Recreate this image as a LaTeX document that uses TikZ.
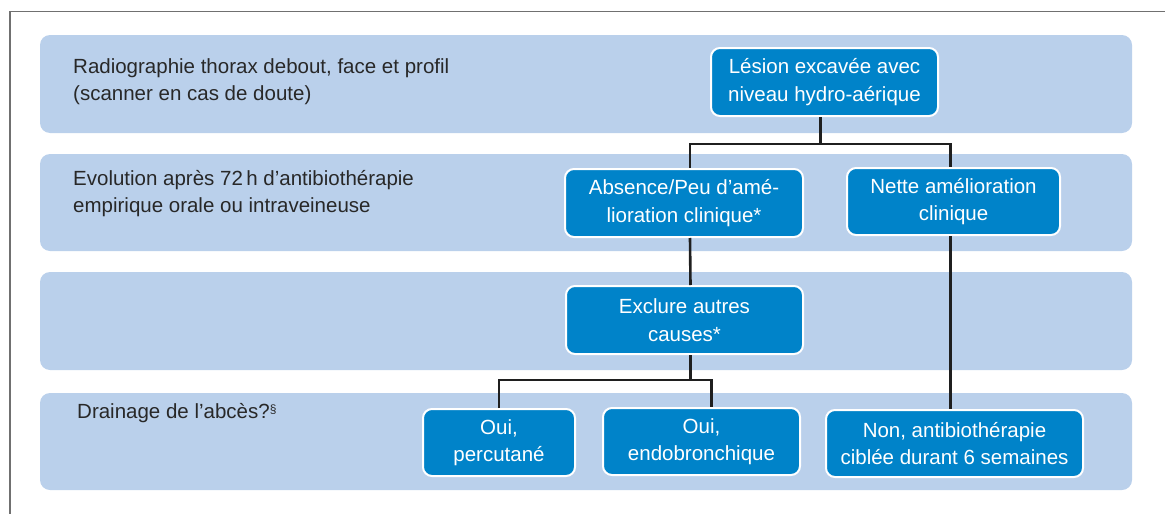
\documentclass[tikz,border=0pt]{standalone}
\usepackage{fontspec}
\setmainfont{Liberation Sans}
\usepackage{tikz}
\definecolor{bandblue}{RGB}{186,208,235}
\definecolor{boxblue}{RGB}{0,131,201}
\definecolor{labelgray}{RGB}{40,40,40}
\definecolor{framegray}{RGB}{112,112,112}
\newcommand{\txtsize}{\fontsize{20.5}{27.5}\selectfont}

\begin{document}
\begin{tikzpicture}[x=1pt,y=-1pt,
        band/.style={fill=bandblue, rounded corners=10pt},
        box/.style={draw=white, line width=2pt, fill=boxblue,
                        rounded corners=9pt, text=white, align=center,
                        inner sep=0pt, font=\txtsize},
        lbl/.style={anchor=west, align=left, inner sep=0pt,
                        text=labelgray, font=\txtsize},
        conn/.style={line width=2.6pt, draw=black!88}]
            \useasboundingbox (0,0) rectangle (1165,514);
            \draw [framegray, line width=1.3pt] (1165,11.5) -| (10,514);
            \fill [band] (40,35) rectangle (1132,133);
            \fill [band] (40,154) rectangle (1132,251);
            \fill [band] (40,272) rectangle (1132,370);
            \fill [band] (40,393) rectangle (1132,490);
            \node [lbl] (rad) at (73,81.5)
                {Radiographie thorax debout, face et profil\\(scanner en cas de doute)};
            \node [lbl] (evo) at (73,193.5)
                {Evolution après 72\,h d’antibiothérapie\\empirique orale ou intraveineuse};
            \node [lbl] (drn) at (77,413) {Drainage de l’abcès?{\fontsize{12}{12}\selectfont\raisebox{5pt}{§}}};
            \node [box, minimum width=227pt, minimum height=68pt] (les) at (824.5,82)
                {Lésion excavée avec\\niveau hydro-aérique};
            \node [box, minimum width=238pt, minimum height=68pt] (abs) at (684,203)
                {Absence/Peu d’amé-\\lioration clinique*};
            \node [box, minimum width=213pt, minimum height=67pt] (net) at (953.5,201.5)
                {Nette amélioration\\clinique};
            \node [box, minimum width=237pt, minimum height=68pt] (exc) at (684.5,320)
                {Exclure autres\\causes*};
            \node [box, minimum width=152pt, minimum height=67pt] (oui1) at (499,442.5)
                {Oui,\\percutané};
            \node [box, minimum width=197pt, minimum height=67pt] (oui2) at (701.5,441.5)
                {Oui,\\endobronchique};
            \node [box, minimum width=257pt, minimum height=67pt] (non) at (954.5,443.5)
                {Non, antibiothérapie\\ciblée durant 6 semaines};
            \draw [conn] ([xshift=-4pt]les.south) -- ++(0,27) coordinate (j1);
            \draw [conn] ([xshift=6pt]abs.north) |- (j1) -| ([xshift=-3pt]net.north);
            \draw [conn] ([xshift=6pt]abs.south) -- ([xshift=6pt]exc.north);
            \draw [conn] ([xshift=-3pt]net.south) -- ([xshift=-3pt]net.south |- non.north);
            \draw [conn] ([xshift=6pt]exc.south) -- ++(0,25) coordinate (j2);
            \draw [conn] (oui1.north) |- (j2) -| ([xshift=10pt]oui2.north);
        \end{tikzpicture}
\end{document}
